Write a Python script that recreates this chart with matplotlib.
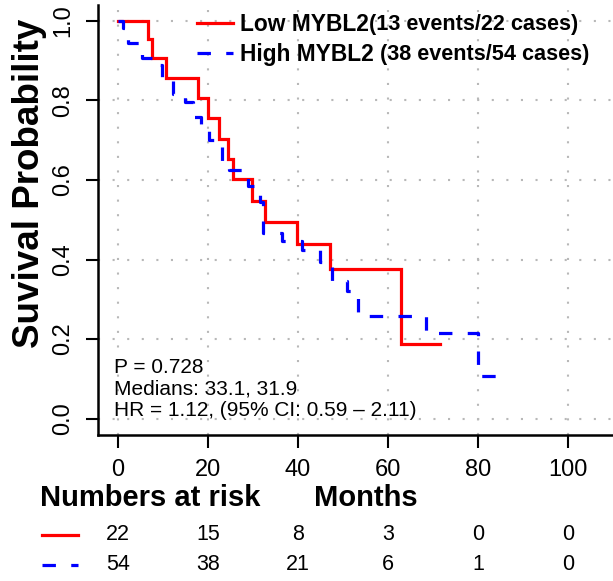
import matplotlib
matplotlib.use('Agg')
import matplotlib.pyplot as plt
from matplotlib.lines import Line2D
from matplotlib import transforms

plt.rcParams['font.family'] = ['Liberation Sans', 'DejaVu Sans']

# Kaplan-Meier steps (months, survival after the drop)
low_times = [0, 6.7, 7.7, 10.8, 17.9, 20.1, 22.4, 24.5, 25.5, 29.7, 32.6, 39.7, 47.1, 62.9]
low_surv = [1.0, 0.955, 0.907, 0.857, 0.805, 0.755, 0.704, 0.654, 0.602, 0.547, 0.494, 0.438, 0.375, 0.188]
low_end = 71.6

high_times = [0, 1.2, 2.2, 5.3, 7.8, 9.8, 12.2, 14.9, 16.7, 18.5, 20.2, 21.6, 23.1, 24.6,
              27.8, 29.0, 30.4, 31.6, 32.3, 36.4, 41.0, 45.0, 47.6, 51.0, 53.3, 68.4, 80.0]
high_surv = [1.0, 0.981, 0.944, 0.907, 0.889, 0.852, 0.815, 0.796, 0.759, 0.722, 0.700, 0.685,
             0.648, 0.625, 0.605, 0.585, 0.565, 0.544, 0.466, 0.446, 0.425, 0.395, 0.345,
             0.320, 0.257, 0.214, 0.106]
high_end = 84.4

risk_times = [0, 20, 40, 60, 80, 100]
risk_low = [22, 15, 8, 3, 0, 0]
risk_high = [54, 38, 21, 6, 1, 0]

RED = '#ff0000'
BLUE = '#0000ff'
DASH = (0, (4.2, 4.8))

fig = plt.figure(figsize=(6.13, 5.81), dpi=100)
W, H = 613.0, 581.0
ax = fig.add_axes([98 / W, 1 - 434.5 / H, 535 / W, 429.5 / H])

ax.set_xlim(-4.4, 114.4)
ax.set_ylim(-0.04, 1.04)
ax.set_xticks(risk_times)
ax.set_yticks([0, 0.2, 0.4, 0.6, 0.8, 1.0])
ax.set_yticklabels(['0.0', '0.2', '0.4', '0.6', '0.8', '1.0'], rotation=90, va='center')
ax.tick_params(labelsize=17, length=9, width=1.5, pad=9, direction='out')
ax.tick_params(axis='y', pad=8)
for s in ['top', 'right']:
    ax.spines[s].set_visible(False)
for s in ['left', 'bottom']:
    ax.spines[s].set_linewidth(1.8)
ax.grid(True, color='#b8b8b8', linestyle=(0, (1, 6)), linewidth=1.5)
ax.set_axisbelow(True)

ax.step(low_times + [low_end], low_surv + [low_surv[-1]], where='post',
        color=RED, lw=2.3, solid_joinstyle='miter', label='Low MYBL2')
ax.step(high_times + [high_end], high_surv + [high_surv[-1]], where='post',
        color=BLUE, lw=2.3, linestyle=DASH, label='High MYBL2')

leg = ax.legend(loc='upper left', bbox_to_anchor=(197 / W, 1 - 13 / H),
                bbox_transform=fig.transFigure, frameon=False, borderpad=0,
                borderaxespad=0, handlelength=1.6, handletextpad=0.28,
                labelspacing=0.3, prop={'weight': 'bold', 'size': 16.4})

stats = ['P = 0.728', 'Medians: 33.1, 31.9', 'HR = 1.12, (95% CI: 0.59 \u2013 2.11)']
for i, s in enumerate(stats):
    ax.text(-0.8, 0.128 - i * 0.054, s, fontsize=15, ha='left', va='center')

fig.text(30 / W, 1 - 183 / H, 'Suvival Probability', rotation=90, ha='center',
         va='center', fontsize=26.5, fontweight='bold')

ax.set_xlabel('Months', fontsize=21, fontweight='bold', va='center')
ax.xaxis.set_label_coords(0.5, (434.5 - 498) / 429.5)
fig.text(40 / W, 1 - 498 / H, 'Numbers at risk', ha='left', va='center',
         fontsize=21, fontweight='bold')

# risk table
tr = transforms.blended_transform_factory(ax.transData, fig.transFigure)
for row, col, ls, ypx in [(risk_low, RED, '-', 535), (risk_high, BLUE, DASH, 565)]:
    fig.add_artist(Line2D([42 / W, 78 / W], [1 - ypx / H, 1 - ypx / H],
                          transform=fig.transFigure, color=col, lw=2.3, linestyle=ls))
    for t, n in zip(risk_times, row):
        ax.text(t, 1 - ypx / H, str(n), transform=tr, ha='center', va='center',
                fontsize=15.5, clip_on=False)

# event counts after the legend labels (placed once the legend is laid out)
fig.canvas.draw()
renderer = fig.canvas.get_renderer()
counts = ['(13 events/22 cases)', ' (38 events/54 cases)']
for txt, c in zip(leg.get_texts(), counts):
    bb = txt.get_window_extent(renderer)
    fig.text(bb.x1 / W, (bb.y0 + bb.y1) / 2 / H, c, ha='left', va='center',
             fontsize=15.6, fontweight='bold')

fig.savefig('out.png', dpi=100)
